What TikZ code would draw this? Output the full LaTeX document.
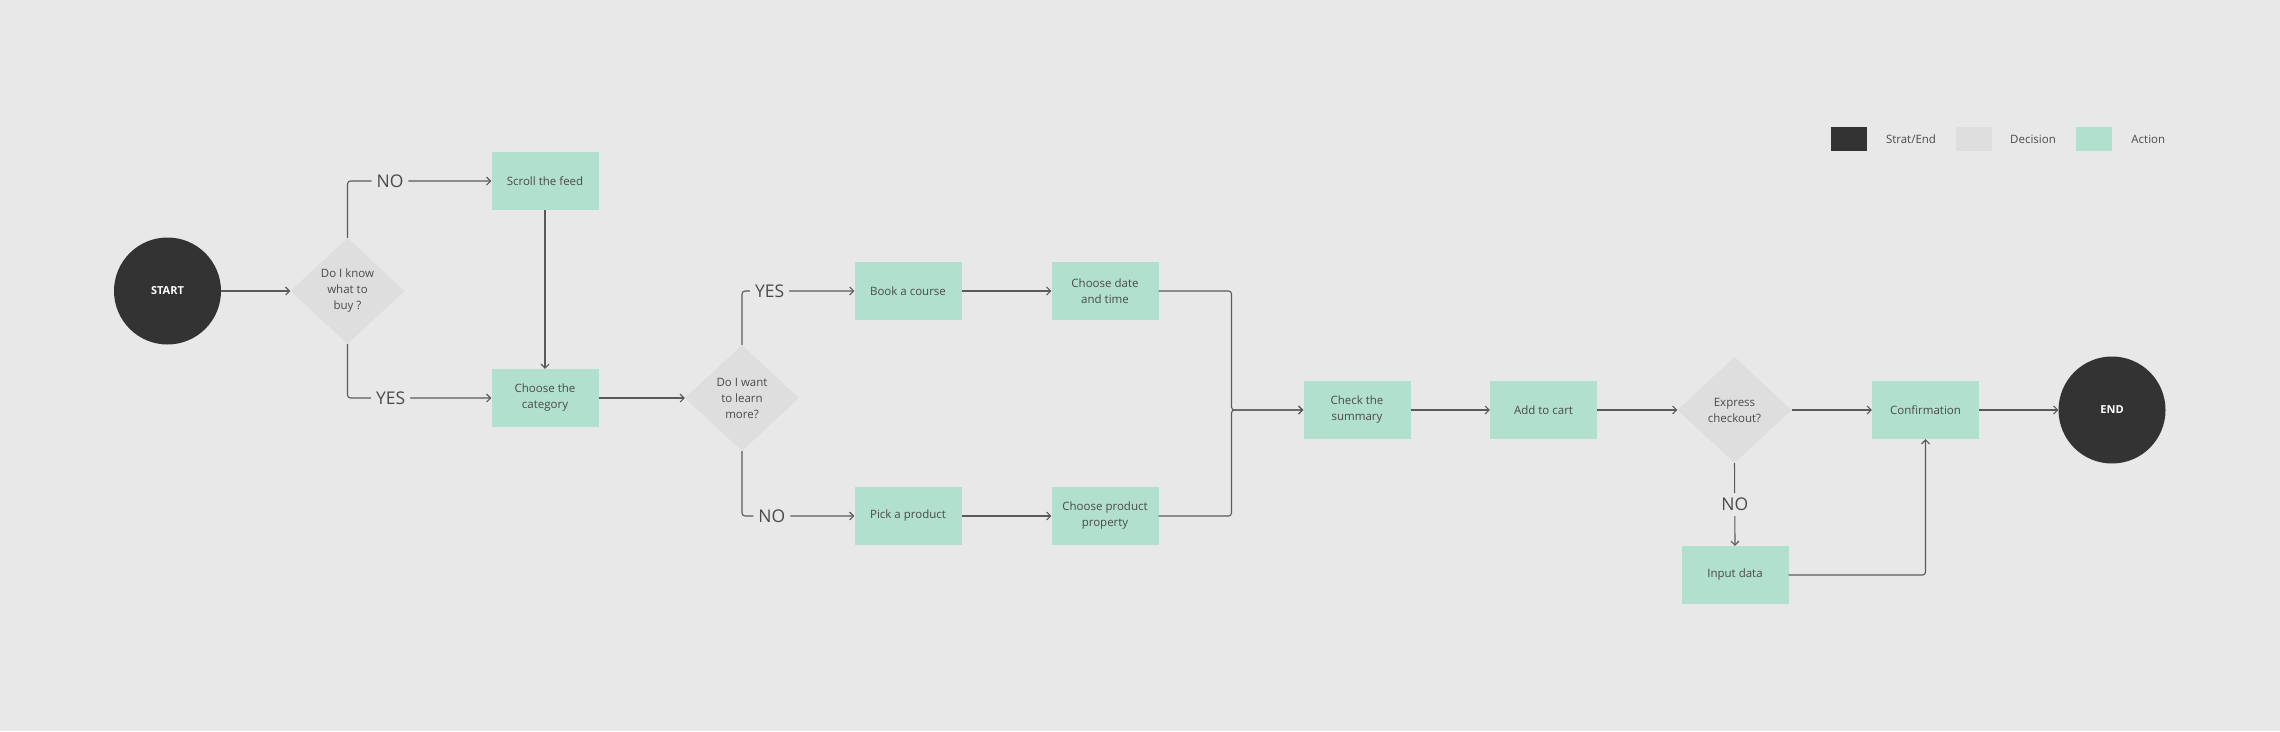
\documentclass[tikz,border=0pt]{standalone}
\usepackage{fontspec}
\setmainfont{Open Sans}
\usetikzlibrary{shapes.geometric,arrows.meta}
\definecolor{bg}{HTML}{E8E8E8}
\definecolor{decc}{HTML}{DEDEDE}
\definecolor{act}{HTML}{B1E0CE}
\definecolor{dark}{HTML}{333333}
\definecolor{linec}{HTML}{5A5A5A}
\definecolor{txt}{HTML}{4A4A4A}
\tikzset{
  action/.style={rectangle, fill=act, minimum width=107pt, minimum height=58pt, inner sep=0pt, align=center, text=txt, font=\fontsize{11.5}{16}\selectfont},
  dec/.style={diamond, fill=decc, minimum width=114pt, minimum height=106pt, inner sep=0pt, align=center, text=txt, font=\fontsize{11.5}{16}\selectfont},
  term/.style={circle, fill=dark, minimum size=107pt, inner sep=0pt, text=white, font=\fontsize{11}{13}\selectfont\bfseries},
  lbl/.style={fill=bg, inner xsep=5pt, inner ysep=1pt, text=txt, font=\fontsize{17.5}{19}\selectfont},
  lblv/.style={fill=bg, inner xsep=2pt, inner ysep=5pt, text=txt, font=\fontsize{17.5}{19}\selectfont},
  conn/.style={draw=linec, line width=1.1pt, -{Straight Barb[length=4pt,width=8pt]}, rounded corners=3pt},
  legbox/.style={rectangle, minimum width=36pt, minimum height=24pt, inner sep=0pt},
  legtxt/.style={text=txt, font=\fontsize{11.5}{13}\selectfont, inner sep=0pt}
}
\begin{document}
\begin{tikzpicture}[x=1pt,y=-1pt]
\fill[bg] (0,0) rectangle (2280,731);
\useasboundingbox (0,0) rectangle (2280,731);

% nodes
\node[term] (start) at (167.5,291) {START};
\node[dec] (d1) at (347.5,291) {Do I know\\what to\\buy ?};
\node[action] (scroll) at (545,181) {Scroll the feed};
\node[action] (choose) at (545,398) {Choose the\\category};
\node[dec] (d2) at (742,398) {Do I want\\to learn\\more?};
\node[action] (book) at (908,291) {Book a course};
\node[action] (cdt) at (1105,291) {Choose date\\and time};
\node[action] (pick) at (908,516) {Pick a product};
\node[action] (cpp) at (1105,516) {Choose product\\property};
\coordinate (j) at (1231.5,410);
\node[action] (summary) at (1357,410) {Check the\\summary};
\node[action] (cart) at (1543.5,410) {Add to cart};
\node[dec] (d3) at (1734.5,410) {Express\\checkout?};
\node[action] (conf) at (1925.5,410) {Confirmation};
\node[action] (input) at (1735,575) {Input data};
\node[term] (end) at (2112,410) {END};

% legend
\node[legbox, fill=dark] (lg1) at (1849,139) {};
\node[legtxt] (lt1) at (1911,139) {Strat/End};
\node[legbox, fill=decc] (lg2) at (1973.7,139) {};
\node[legtxt] (lt2) at (2033,139) {Decision};
\node[legbox, fill=act] (lg3) at (2094.3,139) {};
\node[legtxt] (lt3) at (2148.3,139) {Action};

% connectors
\draw[conn] (start) -- (d1);
\draw[conn] (d1.north) |- node[lbl, pos=0.648] (no1) {NO} (scroll.west);
\draw[conn] (d1.south) |- node[lbl, pos=0.65] (yes1) {YES} (choose.west);
\draw[conn] (scroll) -- (choose);
\draw[conn] (choose) -- (d2);
\draw[conn] (d2.north) |- node[lbl, pos=0.623] (yes2) {YES} (book.west);
\draw[conn] (d2.south) |- node[lbl, pos=0.633] (no2) {NO} (pick.west);
\draw[conn] (book) -- (cdt);
\draw[conn] (pick) -- (cpp);
\draw[conn] (cdt.east) -| (j) -- (summary.west);
\draw[conn] (cpp.east) -| (j) -- (summary.west);
\draw[conn] (summary) -- (cart);
\draw[conn] (cart) -- (d3);
\draw[conn] (d3) -- (conf);
\draw[conn] (d3.south) -- node[lblv, pos=0.5] (no3) {NO} (input.north);
\draw[conn] (input.east) -| (conf.south);
\draw[conn] (conf) -- (end);
\end{tikzpicture}
\end{document}
